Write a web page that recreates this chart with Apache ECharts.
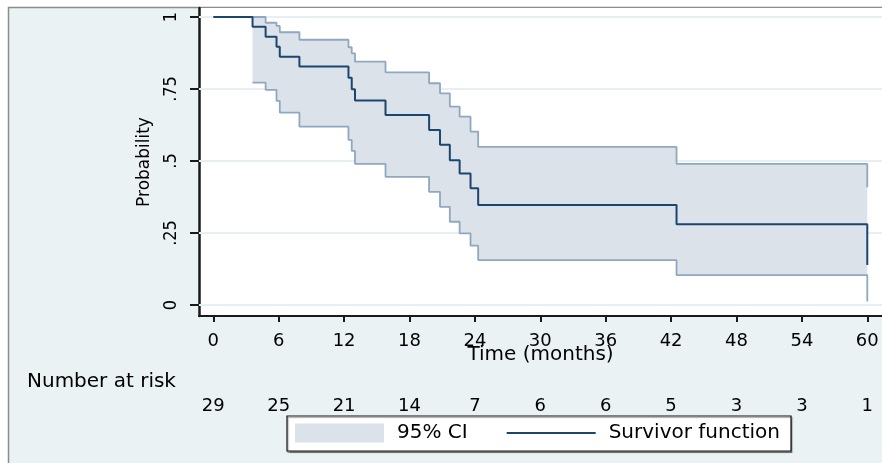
<!DOCTYPE html>
<html>
<head>
<meta charset="utf-8">
<script src="https://cdn.jsdelivr.net/npm/echarts@6/dist/echarts.min.js"></script>
<style>
html,body{margin:0;padding:0;background:#fff;}
#chart{width:882px;height:463px;}
</style>
</head>
<body>
<div id="chart"></div>
<script>
// Kaplan-Meier survivor function (time in months, probability after each step)
const kmTime     = [0, 3.6, 4.8, 5.8, 6.1, 7.9, 12.4, 12.7, 13.0, 15.8, 19.8, 20.8, 21.7, 22.6, 23.6, 24.3, 42.5, 60.0];
const kmSurvival = [1, 0.966, 0.931, 0.897, 0.862, 0.828, 0.789, 0.749, 0.710, 0.660, 0.608, 0.556, 0.503, 0.457, 0.405, 0.347, 0.280, 0.139];

// 95% confidence band
const ciTime  = [3.6, 4.8, 5.8, 6.1, 7.9, 12.4, 12.7, 13.0, 15.8, 19.8, 20.8, 21.7, 22.6, 23.6, 24.3, 42.5, 60.0];
const ciUpper = [1.0, 0.980, 0.969, 0.947, 0.921, 0.895, 0.874, 0.845, 0.808, 0.770, 0.735, 0.689, 0.654, 0.602, 0.549, 0.490, 0.409];
const ciLower = [0.772, 0.747, 0.709, 0.668, 0.619, 0.573, 0.535, 0.490, 0.445, 0.393, 0.341, 0.289, 0.249, 0.206, 0.156, 0.104, 0.012];

// axis ticks and number-at-risk table
const xTicks = [0, 6, 12, 18, 24, 30, 36, 42, 48, 54, 60];
const yTicks = [0, 0.25, 0.5, 0.75, 1];
const yTickLabels = ['0', '.25', '.5', '.75', '1'];
const riskTimes  = [0, 6, 12, 18, 24, 30, 36, 42, 48, 54, 60];
const riskCounts = [29, 25, 21, 14, 7, 6, 6, 5, 3, 3, 1];

const NAVY = '#1a476f';
const CI_LINE = '#8fa7bf';
const BAND = '#dce2ea';
const FONT = 'DejaVu Sans';
const NARROW = "'Liberation Sans Narrow', 'DejaVu Sans Condensed', 'Liberation Sans', sans-serif";

const kmData = kmTime.map((t, i) => [t, kmSurvival[i]]);
const lowData = ciTime.map((t, i) => [t, ciLower[i]]);
const upData = ciTime.map((t, i) => [t, ciUpper[i]]);
// one band item per step interval: [start, end, lower, upper]
const bandData = ciTime.map((t, i) => [t, i + 1 < ciTime.length ? ciTime[i + 1] : t, ciLower[i], ciUpper[i]]);

function renderBand(params, api) {
  if (params.dataIndex !== 0) return null;
  // build one polygon along the upper steps and back along the lower steps
  const pts = [];
  const n = ciTime.length;
  for (let i = 0; i < n; i++) {
    if (i > 0) pts.push(api.coord([ciTime[i], ciUpper[i - 1]]));
    pts.push(api.coord([ciTime[i], ciUpper[i]]));
  }
  for (let i = n - 1; i >= 0; i--) {
    pts.push(api.coord([ciTime[i], ciLower[i]]));
    if (i > 0) pts.push(api.coord([ciTime[i], ciLower[i - 1]]));
  }
  return {type: 'polygon', shape: {points: pts}, style: {fill: BAND, stroke: null}};
}

const chart = echarts.init(document.getElementById('chart'), null, {renderer: 'canvas'});
const option = {
  animation: false,
  backgroundColor: '#ffffff',
  textStyle: {fontFamily: FONT, color: '#000'},
  graphic: [
    {type: 'rect', z: -10, silent: true,
     shape: {x: 8.5, y: 7.5, width: 900, height: 500},
     style: {fill: '#eaf2f3', stroke: '#8c8c8c', lineWidth: 1.5}},
    {type: 'text', left: 27, top: 372, silent: true,
     style: {text: 'Number at risk', fontSize: 20, fill: '#000', fontFamily: FONT}}
  ],
  grid: {left: 199, top: 8, width: 683, height: 308, show: true, backgroundColor: '#ffffff', borderWidth: 0},
  legend: {
    left: 287, top: 416,
    orient: 'horizontal',
    selectedMode: false,
    itemWidth: 89, itemHeight: 19, itemGap: 38,
    padding: [7, 11, 8, 8],
    backgroundColor: '#ffffff',
    borderColor: '#111', borderWidth: 1.2,
    shadowColor: 'rgba(0,0,0,0.35)', shadowOffsetX: 1, shadowOffsetY: 1.5, shadowBlur: 1,
    textStyle: {fontSize: 20, fontFamily: FONT, color: '#000', padding: [0, 0, 0, 8]},
    data: [
      {name: '95% CI', icon: 'rect', itemStyle: {color: BAND, borderWidth: 0}},
      {name: 'Survivor function', itemStyle: {opacity: 0}}
    ]
  },
  xAxis: [
    {
      type: 'value', gridIndex: 0, min: -1.312, max: 61.35,
      axisLine: {show: true, onZero: false, lineStyle: {color: '#1a1a1a', width: 2}},
      axisTick: {show: true, customValues: xTicks, length: 6, lineStyle: {color: '#1a1a1a', width: 2}},
      axisLabel: {customValues: xTicks, fontSize: 18, color: '#000', margin: 16, fontFamily: FONT},
      splitLine: {show: false},
      name: 'Time (months)', nameLocation: 'middle', nameGap: 29, nameMoveOverlap: false,
      nameTextStyle: {fontSize: 20, color: '#000', fontFamily: FONT}
    },
    {
      type: 'value', gridIndex: 0, min: -1.312, max: 61.35, position: 'bottom', offset: 81,
      axisLine: {show: false}, axisTick: {show: false}, splitLine: {show: false},
      axisLabel: {customValues: riskTimes, fontSize: 18, color: '#000', margin: 0, fontFamily: FONT,
        formatter: v => { const i = riskTimes.indexOf(v); return i >= 0 ? String(riskCounts[i]) : ''; }}
    }
  ],
  yAxis: {
    type: 'value', min: -0.0382, max: 1.0312,
    axisLine: {show: true, onZero: false, lineStyle: {color: '#1a1a1a', width: 2.5}},
    axisTick: {show: true, customValues: yTicks, length: 9, lineStyle: {color: '#1a1a1a', width: 2}},
    axisLabel: {customValues: yTicks, rotate: 90, fontSize: 18, color: '#000', margin: 19, fontFamily: NARROW,
      formatter: v => { const i = yTicks.indexOf(v); return i >= 0 ? yTickLabels[i] : ''; }},
    splitLine: {show: false},
    name: 'Probability', nameLocation: 'middle', nameGap: 46, nameRotate: 90,
    nameTextStyle: {fontSize: 17, color: '#000', fontFamily: FONT}
  },
  series: [
    {
      name: 'gridlines', type: 'line', data: [], z: 1, silent: true,
      markLine: {silent: true, z: 1, symbol: 'none', label: {show: false},
        lineStyle: {color: '#e6eff2', width: 2, type: 'solid'},
        data: yTicks.map(v => ({yAxis: v}))}
    },
    {
      name: '95% CI', type: 'custom', data: bandData, z: 2, silent: true,
      itemStyle: {color: BAND}, renderItem: renderBand, clip: true
    },
    {
      name: 'ciLower', type: 'line', step: 'end', data: lowData, z: 3,
      symbol: 'none', lineStyle: {color: CI_LINE, width: 1.8}, silent: true
    },
    {
      name: 'ciUpper', type: 'line', step: 'end', data: upData, z: 3,
      symbol: 'none', lineStyle: {color: CI_LINE, width: 1.8}, silent: true
    },
    {
      name: 'Survivor function', type: 'line', step: 'end', data: kmData, z: 4,
      symbol: 'none', itemStyle: {color: NAVY}, lineStyle: {color: NAVY, width: 2}, silent: true
    }
  ]
};
chart.setOption(option);
</script>
</body>
</html>
